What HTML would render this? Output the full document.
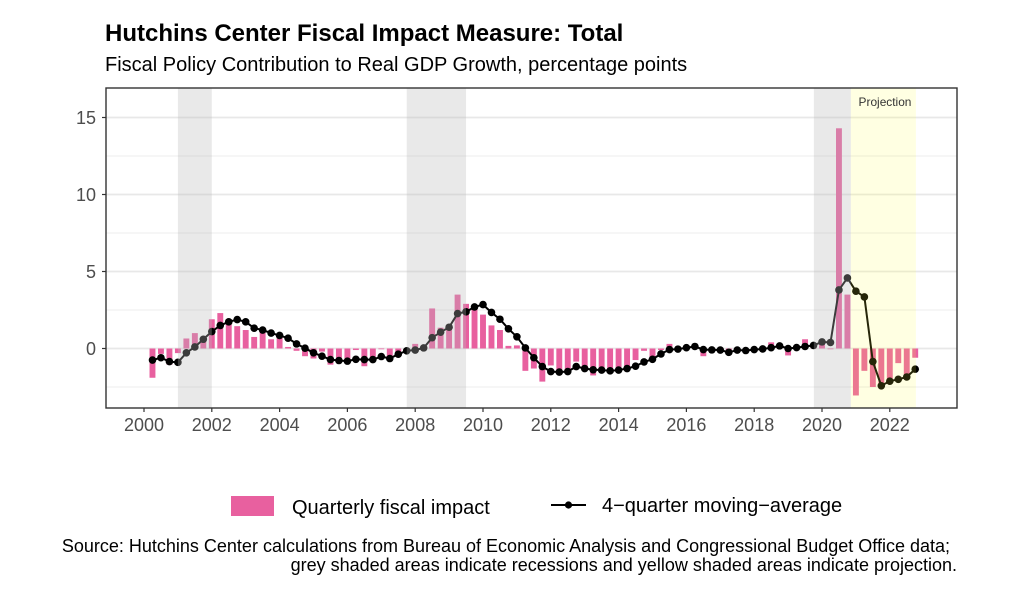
<!DOCTYPE html>
<html lang="en">
<head>
<meta charset="utf-8">
<title>Hutchins Center Fiscal Impact Measure: Total</title>
<style>
html,body{margin:0;padding:0;background:#fff;}
svg{display:block;font-family:"Liberation Sans",Arial,sans-serif;}
</style>
</head>
<body>
<svg id="chart" width="1022" height="592" viewBox="0 0 1022 592" xmlns="http://www.w3.org/2000/svg">
<rect x="0" y="0" width="1022" height="592" fill="#ffffff"/>
<text x="105" y="41" font-size="24" font-weight="700" fill="#000000">Hutchins Center Fiscal Impact Measure: Total</text>
<text x="105" y="71" font-size="20" fill="#000000">Fiscal Policy Contribution to Real GDP Growth, percentage points</text>
<g id="plot"></g>
<g>
<rect x="231" y="496" width="43" height="20" fill="#E8609F"/>
<text x="292" y="514" font-size="20" fill="#000000">Quarterly fiscal impact</text>
<line x1="551" y1="505" x2="586" y2="505" stroke="#000000" stroke-width="2"/>
<circle cx="568.5" cy="505" r="3.6" fill="#000000"/>
<text x="602" y="512" font-size="20" fill="#000000">4−quarter moving−average</text>
</g>
<text x="950" y="552" text-anchor="end" font-size="18" fill="#000000">Source: Hutchins Center calculations from Bureau of Economic Analysis and Congressional Budget Office data;</text>
<text x="957" y="571" text-anchor="end" font-size="18" fill="#000000">grey shaded areas indicate recessions and yellow shaded areas indicate projection.</text>
</svg>
<script>
const firstQuarter = 2000.25;
const barValues = [-1.9,-0.35,-1.05,-0.3,0.65,1.0,0.75,1.9,2.3,1.9,1.45,1.2,0.75,1.2,0.6,0.85,0.1,-0.15,-0.5,-0.65,-0.2,-1.05,-0.9,-0.9,-0.1,-1.15,-0.75,-0.05,-0.75,-0.25,-0.2,0.3,-0.1,2.6,1.35,1.4,3.5,2.9,2.6,2.2,1.5,1.2,0.17,0.2,-1.45,-1.3,-2.15,-1.1,-1.4,-1.4,-0.85,-1.4,-1.75,-1.25,-1.3,-1.4,-1.3,-0.75,-0.15,-0.75,-0.1,0.3,0.05,0.1,0.1,-0.5,-0.1,-0.1,-0.3,-0.1,-0.1,-0.05,0.05,0.4,0.15,-0.45,0.1,0.6,0.1,0.4,-0.05,14.3,3.5,-3.05,-1.45,-2.5,-2.4,-2.0,-0.95,-1.75,-0.6];
const lineValues = [-0.75,-0.6,-0.85,-0.9,-0.28,0.1,0.6,1.1,1.5,1.73,1.88,1.73,1.32,1.2,1.0,0.85,0.67,0.3,0.02,-0.28,-0.5,-0.72,-0.78,-0.82,-0.7,-0.72,-0.72,-0.52,-0.65,-0.37,-0.15,-0.1,0.04,0.7,1.06,1.38,2.27,2.38,2.7,2.85,2.34,1.9,1.28,0.76,0.04,-0.6,-1.17,-1.5,-1.53,-1.5,-1.17,-1.3,-1.38,-1.4,-1.45,-1.4,-1.3,-1.15,-0.87,-0.7,-0.35,-0.07,-0.04,0.05,0.13,-0.07,-0.09,-0.1,-0.25,-0.1,-0.13,-0.07,-0.03,0.05,0.17,0,0.06,0.13,0.2,0.43,0.39,3.8,4.58,3.72,3.35,-0.85,-2.42,-2.12,-2.0,-1.85,-1.34];
const xTickYears = [2000,2002,2004,2006,2008,2010,2012,2014,2016,2018,2020,2022];
const yMajorTicks = [0,5,10,15];
const yMinorTicks = [-2.5,2.5,7.5,12.5];
const recessionStarts = [2001.0,2007.75,2019.76];
const recessionEnds = [2002.0,2009.5,2020.85];
const projectionStart = 2020.85;
const projectionEnd = 2022.77;

const panelLeft = 106, panelRight = 957, panelTop = 88, panelBottom = 408;
function xScale(year){ return 144 + (year - 2000) * 33.9; }
function yScale(v){ return 348.5 - v * 15.4; }
function dateOf(i){ return firstQuarter + i * 0.25; }

const NS = 'http://www.w3.org/2000/svg';
const plot = document.getElementById('plot');
function make(tag, attrs, parent){
  const el = document.createElementNS(NS, tag);
  for (const k in attrs) el.setAttribute(k, attrs[k]);
  (parent || plot).appendChild(el);
  return el;
}

make('rect', {x:panelLeft, y:panelTop, width:panelRight-panelLeft, height:panelBottom-panelTop, fill:'#ffffff'});

yMinorTicks.forEach(function(v){
  const el = make('line', {x1:panelLeft, x2:panelRight, y1:yScale(v), y2:yScale(v), stroke:'#f0f0f0', 'stroke-width':1.2});
  
  
});
yMajorTicks.forEach(function(v){
  const el = make('line', {x1:panelLeft, x2:panelRight, y1:yScale(v), y2:yScale(v), stroke:'#e8e8e8', 'stroke-width':1.8});
  
  
});

const barWidth = 5.9;
barValues.forEach(function(v, i){
  const x = xScale(dateOf(i));
  const y0 = yScale(0), y1 = yScale(v);
  const el = make('rect', {x:x-barWidth/2, width:barWidth, y:Math.min(y0,y1), height:Math.abs(y1-y0), fill:'#E8609F'});
  
  
});

const pts = lineValues.map(function(v, i){ return xScale(dateOf(i)).toFixed(2) + ',' + yScale(v).toFixed(2); }).join(' ');
const avgLine = make('polyline', {points:pts, fill:'none', stroke:'#000000', 'stroke-width':2, 'stroke-linejoin':'round'});


lineValues.forEach(function(v, i){
  const el = make('circle', {cx:xScale(dateOf(i)), cy:yScale(v), r:3.8, fill:'#000000'});
  
  
});

recessionStarts.forEach(function(s, i){
  const el = make('rect', {x:xScale(s), width:xScale(recessionEnds[i])-xScale(s), y:panelTop, height:panelBottom-panelTop, fill:'rgb(188,188,188)', 'fill-opacity':0.32});
  
  
});
const proj = make('rect', {x:xScale(projectionStart), width:xScale(projectionEnd)-xScale(projectionStart), y:panelTop, height:panelBottom-panelTop, fill:'rgb(255,255,60)', 'fill-opacity':0.15});



const projLabel = make('text', {x:885, y:106, 'text-anchor':'middle', 'font-size':11.9, fill:'#333333'});
projLabel.textContent = 'Projection';



const border = make('rect', {x:panelLeft, y:panelTop, width:panelRight-panelLeft, height:panelBottom-panelTop, fill:'none', stroke:'#333333', 'stroke-width':1.4});



yMajorTicks.forEach(function(v){
  const tick = make('line', {x1:panelLeft-4, x2:panelLeft, y1:yScale(v), y2:yScale(v), stroke:'#333333', 'stroke-width':1.2});
  
  
  const label = make('text', {x:panelLeft-10, y:yScale(v)+6.5, 'text-anchor':'end', 'font-size':18, fill:'#4d4d4d'});
  label.textContent = String(v);
  
  
});
xTickYears.forEach(function(yr){
  const tick = make('line', {x1:xScale(yr), x2:xScale(yr), y1:panelBottom, y2:panelBottom+4, stroke:'#333333', 'stroke-width':1.2});
  
  
  const label = make('text', {x:xScale(yr), y:431, 'text-anchor':'middle', 'font-size':18, fill:'#4d4d4d'});
  label.textContent = String(yr);
  
  
});
</script>
</body>
</html>
